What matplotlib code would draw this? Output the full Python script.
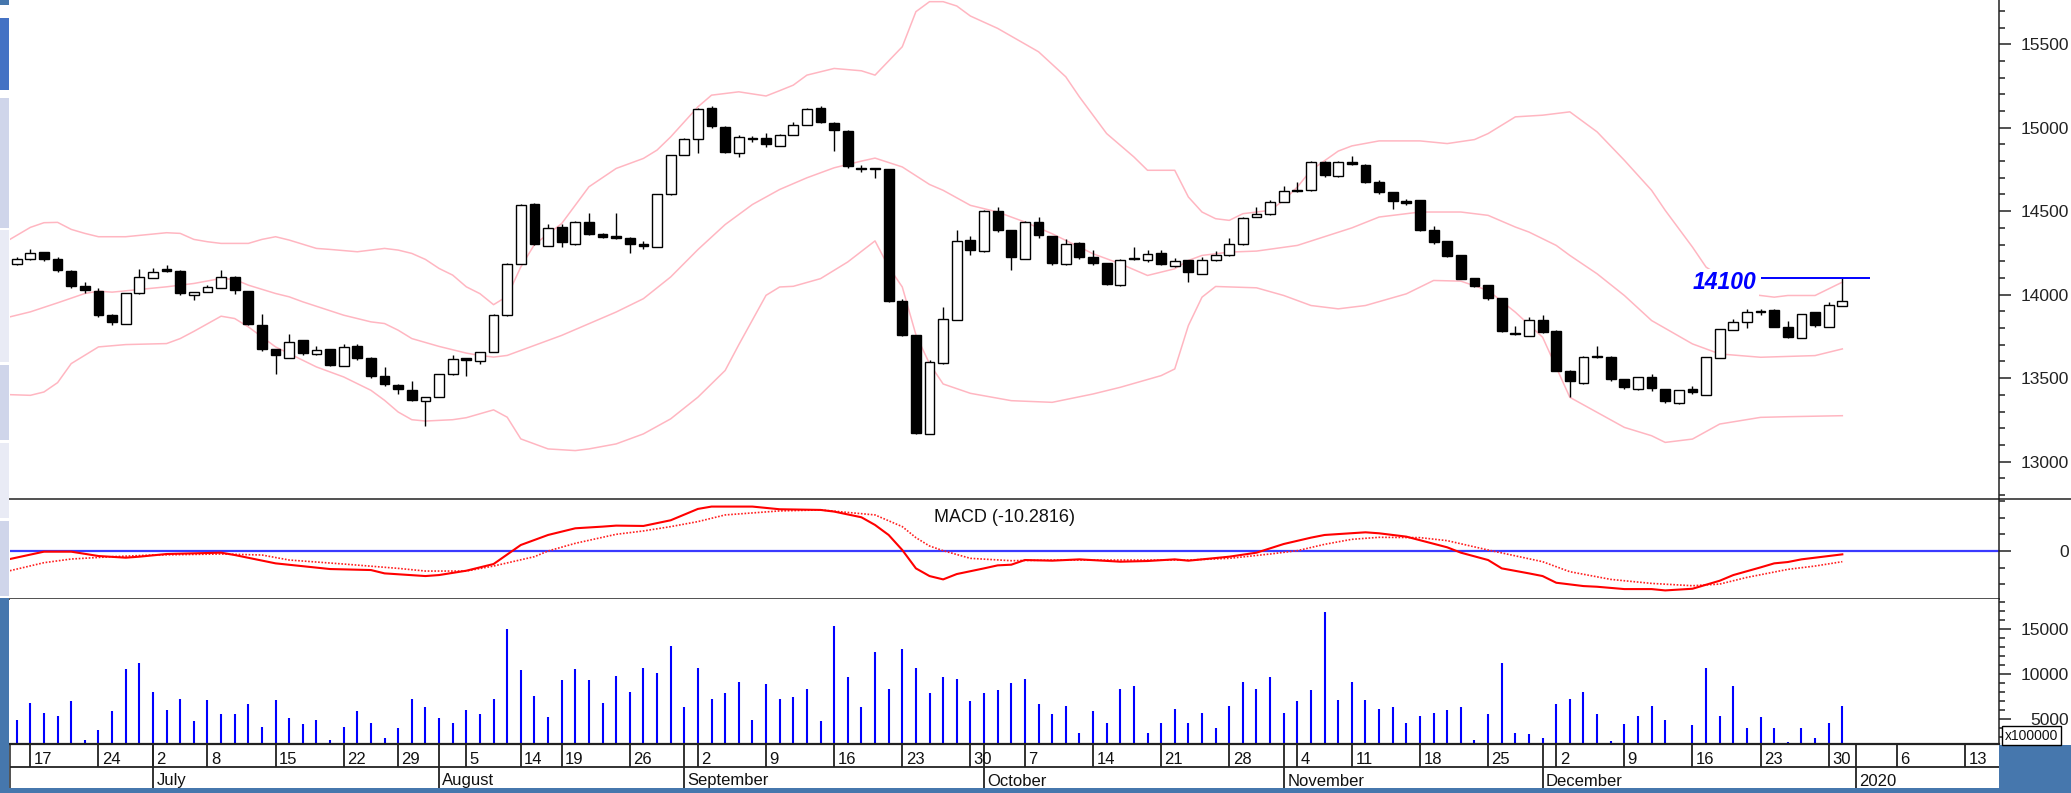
import matplotlib

matplotlib.use("Agg")
import matplotlib.pyplot as plt
from matplotlib.lines import Line2D
from matplotlib.patches import Rectangle
from matplotlib.ticker import FixedLocator, MultipleLocator, NullLocator

plt.rcParams["font.family"] = ["Liberation Sans", "DejaVu Sans"]

# ---- daily candles, one per trading day (index 0 = 14 June 2019, 134 = 31 Dec 2019)
opens = [
    14185, 14211, 14253, 14211, 14141, 14049, 14023, 13881, 13827, 14007,
    14101, 14151, 14141, 13995, 14015, 14039, 14107, 14021, 13817, 13673,
    13623, 13727, 13643, 13673, 13573, 13691, 13623, 13511, 13461, 13427,
    13363, 13387, 13523, 13621, 13602, 13656, 13876, 14184, 14546, 14294,
    14406, 14302, 14436, 14362, 14350, 14342, 14302, 14286, 14600, 14836,
    14932, 15116, 15006, 14846, 14940, 14936, 14890, 14956, 15018, 15116,
    15030, 14982, 14756, 14756, 14750, 13962, 13756, 13166, 13589, 13851,
    14325, 14259, 14501, 14385, 14215, 14435, 14349, 14181, 14309, 14225,
    14189, 14055, 14221, 14205, 14249, 14171, 14205, 14125, 14205, 14235,
    14301, 14465, 14481, 14555, 14629, 14625, 14795, 14709, 14795, 14779,
    14675, 14615, 14559, 14565, 14385, 14319, 14235, 14099, 14055, 13979,
    13771, 13755, 13849, 13785, 13545, 13469, 13635, 13629, 13495, 13435,
    13509, 13435, 13349, 13435, 13401, 13621, 13789, 13835, 13905, 13909,
    13809, 13741, 13895, 13809, 13935,
]
highs = [
    14223, 14271, 14258, 14223, 14145, 14077, 14037, 13885, 14009, 14155,
    14161, 14179, 14145, 14017, 14057, 14147, 14111, 14023, 13883, 13675,
    13763, 13731, 13695, 13677, 13707, 13707, 13627, 13567, 13465, 13483,
    13389, 13527, 13637, 13623, 13656, 13882, 14188, 14542, 14548, 14426,
    14426, 14440, 14488, 14368, 14492, 14346, 14322, 14602, 14838, 14938,
    15116, 15128, 15010, 14954, 14950, 14966, 14964, 15034, 15116, 15130,
    15034, 14986, 14774, 14758, 14752, 13974, 13758, 13609, 13925, 14389,
    14349, 14505, 14525, 14387, 14441, 14465, 14351, 14335, 14317, 14269,
    14191, 14211, 14285, 14265, 14269, 14219, 14209, 14225, 14261, 14341,
    14463, 14525, 14569, 14649, 14675, 14801, 14801, 14799, 14831, 14783,
    14685, 14617, 14575, 14567, 14409, 14321, 14237, 14101, 14057, 13981,
    13815, 13865, 13881, 13789, 13547, 13631, 13695, 13631, 13497, 13507,
    13525, 13437, 13431, 13455, 13627, 13797, 13855, 13915, 13915, 13915,
    13845, 13887, 13897, 13955, 14100,
]
lows = [
    14175, 14207, 14201, 14133, 14037, 14011, 13867, 13817, 13825, 14005,
    14099, 14137, 13995, 13971, 14013, 14037, 14003, 13821, 13665, 13527,
    13621, 13641, 13641, 13571, 13571, 13611, 13503, 13451, 13403, 13361,
    13211, 13385, 13521, 13515, 13582, 13654, 13874, 14182, 14300, 14292,
    14286, 14300, 14356, 14340, 14336, 14250, 14274, 14284, 14598, 14834,
    14846, 15000, 14846, 14826, 14914, 14886, 14888, 14954, 15016, 15026,
    14862, 14756, 14732, 14700, 13958, 13752, 13168, 13164, 13587, 13849,
    14235, 14257, 14375, 14145, 14213, 14341, 14179, 14179, 14211, 14179,
    14055, 14053, 14207, 14195, 14175, 14165, 14075, 14123, 14203, 14233,
    14299, 14463, 14479, 14553, 14617, 14623, 14705, 14707, 14777, 14669,
    14605, 14515, 14535, 14379, 14305, 14225, 14091, 14045, 13971, 13779,
    13759, 13751, 13771, 13541, 13389, 13467, 13621, 13485, 13435, 13431,
    13425, 13349, 13347, 13405, 13399, 13619, 13787, 13799, 13881, 13805,
    13741, 13739, 13809, 13807, 13933,
]
closes = [
    14213, 14247, 14211, 14147, 14049, 14027, 13877, 13837, 14007, 14103,
    14135, 14139, 14009, 14015, 14045, 14103, 14027, 13823, 13675, 13637,
    13719, 13649, 13667, 13581, 13687, 13623, 13515, 13467, 13433, 13371,
    13387, 13525, 13615, 13611, 13656, 13880, 14186, 14540, 14302, 14398,
    14314, 14434, 14366, 14346, 14340, 14306, 14294, 14600, 14836, 14932,
    15110, 15012, 14852, 14942, 14930, 14900, 14958, 15018, 15110, 15032,
    14984, 14770, 14750, 14750, 13962, 13760, 13172, 13598, 13855, 14321,
    14269, 14499, 14385, 14225, 14435, 14355, 14189, 14305, 14225, 14189,
    14061, 14209, 14211, 14245, 14185, 14201, 14135, 14209, 14235, 14301,
    14461, 14481, 14555, 14621, 14621, 14795, 14715, 14795, 14781, 14675,
    14615, 14559, 14549, 14385, 14315, 14229, 14095, 14051, 13979, 13785,
    13767, 13849, 13779, 13545, 13481, 13629, 13625, 13495, 13445, 13505,
    13439, 13365, 13429, 13415, 13625, 13795, 13835, 13895, 13895, 13809,
    13749, 13885, 13821, 13939, 13965,
]
# volume, in units of 100000
volumes = [
    4855, 6790, 5670, 5340, 6940, 2650, 3740, 5830, 10560, 11200,
    8020, 5970, 7240, 4710, 7090, 5530, 5530, 6610, 4070, 7090,
    5050, 4410, 4855, 2650, 4070, 5830, 4550, 2800, 3920, 7240,
    6310, 5050, 4550, 5970, 5530, 7240, 15030, 10410, 7570, 5190,
    9300, 10560, 9300, 6760, 9780, 8020, 10700, 10080, 13100, 6280,
    10700, 7240, 7870, 9140, 4855, 8850, 7240, 7390, 8360, 4710,
    15330, 9630, 6310, 12460, 8360, 12800, 10700, 7870, 9630, 9440,
    6940, 7870, 8210, 8990, 9440, 6610, 5530, 6450, 3430, 5830,
    4550, 8360, 8660, 3430, 4550, 6090, 4550, 5670, 3920, 6450,
    9140, 8360, 9630, 5670, 6940, 8210, 16900, 7090, 9140, 7090,
    6090, 6275, 4550, 5340, 5670, 5970, 6275, 2650, 5530, 11200,
    3430, 3290, 2800, 6610, 7240, 8020, 5530, 2500, 4410, 5340,
    6450, 4855, 2170, 4260, 10700, 5340, 8660, 3920, 5190, 3920,
    2360, 3920, 2800, 4550, 6450,
]

# ---- Bollinger bands (day index, value)
upper_x = [-0.5, 1, 2, 3, 4, 5, 6, 8, 11, 12, 13, 14, 15, 17, 18, 19, 20, 22, 23, 25,
           26, 27, 28, 29, 30, 31, 32, 33, 34, 35, 36, 37, 38, 40, 42, 44, 46, 47, 48, 50,
           51, 53, 55, 56, 57, 58, 60, 62, 63, 65, 66, 67, 68, 69, 70, 72, 75, 77, 78, 80,
           82, 83, 85, 86, 87, 88, 89, 90, 92, 93, 94, 95, 97, 98, 100, 103, 105, 107, 108, 110,
           112, 114, 116, 118, 120, 121, 123, 124, 127, 129, 130, 132, 134]
upper_y = [14331, 14403, 14431, 14433, 14391, 14367, 14347, 14347, 14371, 14367, 14331, 14317,
           14307, 14307, 14331, 14347, 14327, 14277, 14271, 14257, 14267, 14277, 14267, 14247,
           14211, 14157, 14117, 14047, 14006, 13940, 13990, 14166, 14300, 14426, 14646, 14756,
           14816, 14866, 14945, 15125, 15195, 15215, 15190, 15222, 15255, 15315, 15355, 15341,
           15315, 15485, 15695, 15755, 15755, 15729, 15669, 15595, 15455, 15305, 15185, 14965,
           14825, 14745, 14745, 14585, 14495, 14455, 14445, 14485, 14505, 14565, 14645, 14745,
           14860, 14891, 14921, 14921, 14905, 14929, 14965, 15065, 15075, 15095, 14975, 14805,
           14625, 14505, 14285, 14165, 14005, 13985, 13995, 13995, 14075]
middle_x = [-0.5, 1, 3, 5, 6, 7, 9, 11, 13, 15, 16, 17, 19, 20, 21, 24, 26, 27, 28, 29,
            31, 32, 33, 34, 35, 36, 38, 40, 42, 44, 46, 48, 50, 52, 54, 56, 58, 60, 62, 63,
            65, 67, 68, 70, 72, 74, 76, 77, 79, 81, 83, 85, 86, 87, 89, 91, 94, 98, 100, 103,
            106, 108, 110, 111, 113, 114, 116, 118, 120, 123, 125, 128, 132, 134]
middle_y = [13867, 13897, 13951, 14007, 14021, 14015, 14031, 14047, 14067, 14097, 14091, 14057,
            14007, 13987, 13957, 13877, 13837, 13827, 13787, 13737, 13690, 13670, 13650, 13636,
            13626, 13636, 13696, 13756, 13826, 13896, 13976, 14106, 14270, 14420, 14540, 14630,
            14700, 14760, 14800, 14818, 14765, 14660, 14625, 14535, 14495, 14435, 14365, 14325,
            14245, 14185, 14115, 14155, 14205, 14235, 14255, 14261, 14295, 14400, 14465, 14495,
            14495, 14475, 14405, 14375, 14295, 14235, 14125, 13995, 13845, 13705, 13645, 13625,
            13635, 13675]
lower_x = [-0.5, 1, 2, 3, 4, 6, 8, 11, 12, 13, 15, 16, 17, 18, 19, 20, 22, 24, 26, 27,
           28, 29, 30, 32, 33, 35, 36, 37, 39, 41, 42, 44, 46, 48, 50, 52, 53, 55, 56, 57,
           59, 61, 63, 64, 65, 66, 67, 68, 70, 73, 76, 79, 81, 84, 85, 86, 87, 88, 91, 93,
           95, 97, 99, 102, 104, 106, 108, 110, 112, 114, 116, 118, 120, 121, 123, 125, 128, 130,
           134]
lower_y = [13401, 13397, 13417, 13473, 13587, 13687, 13701, 13707, 13737, 13780, 13871, 13857,
           13807, 13747, 13687, 13647, 13567, 13507, 13427, 13367, 13297, 13251, 13243, 13251,
           13263, 13310, 13266, 13136, 13076, 13066, 13076, 13106, 13166, 13256, 13386, 13546,
           13700, 13996, 14046, 14050, 14096, 14196, 14322, 14166, 14046, 13760, 13586, 13465,
           13409, 13365, 13355, 13405, 13445, 13515, 13555, 13815, 13985, 14049, 14041, 13995,
           13935, 13915, 13935, 14005, 14085, 14081, 14025, 13895, 13745, 13385, 13295, 13205,
           13155, 13115, 13135, 13225, 13265, 13269, 13275]

# ---- MACD line and its signal line (day index, value)
macd_x = [-0.5, 2, 4, 6, 8, 9, 11, 15, 16, 19, 23, 26, 27, 30, 31, 33, 35, 37, 39, 40,
          41, 43, 44, 46, 48, 50, 51, 54, 56, 59, 60, 62, 63, 64, 65, 66, 67, 68, 69, 71,
          72, 73, 74, 76, 78, 81, 83, 85, 86, 89, 91, 93, 95, 96, 99, 100, 102, 105, 106, 108,
          109, 111, 112, 113, 115, 116, 118, 120, 121, 123, 125, 126, 128, 129, 130, 131, 132, 134]
macd_y = [-24, -2, -2, -15, -20, -17, -9, -5, -12, -37, -54, -57, -67, -75, -72, -59, -39, 18,
          48, 58, 68, 73, 76, 75, 92, 126, 133, 133, 125, 123, 118, 101, 78, 48, 3, -52, -75,
          -85, -69, -52, -43, -41, -27, -29, -25, -32, -30, -25, -29, -17, -5, 21, 40, 48, 56,
          53, 43, 11, -5, -27, -52, -67, -75, -95, -105, -107, -114, -114, -118, -113, -89,
          -72, -49, -37, -33, -25, -20, -10]
signal_x = [-0.5, 2, 4, 7, 10, 15, 18, 20, 24, 28, 30, 33, 35, 38, 39, 41, 44, 46, 48, 50,
            52, 56, 59, 63, 65, 66, 67, 68, 70, 73, 76, 86, 89, 92, 94, 96, 98, 100, 103, 105,
            108, 112, 114, 117, 120, 123, 125, 127, 130, 132, 134]
signal_y = [-59, -35, -24, -17, -12, -9, -12, -27, -39, -52, -60, -60, -45, -17, 0, 23, 50, 60,
            73, 88, 108, 120, 123, 108, 73, 40, 15, 1, -22, -29, -27, -27, -22, -9, 1, 20, 35,
            41, 40, 31, 3, -32, -62, -85, -97, -104, -99, -79, -55, -45, -32]
macd_last = -10.2816

# ---- date axis
day_ticks = [1, 6, 10, 14, 19, 24, 28, 33, 37, 40, 45, 50, 55, 60, 65, 70, 74, 79, 84, 89,
             94, 98, 103, 108, 113, 118, 123, 128, 133, 138, 143]
day_labels = ["17", "24", "2", "8", "15", "22", "29", "5", "14", "19", "26", "2", "9", "16",
              "23", "30", "7", "14", "21", "28", "4", "11", "18", "25", "2", "9", "16", "23",
              "30", "6", "13"]
month_ticks = [10, 31, 49, 71, 93, 112, 135]
month_labels = ["July", "August", "September", "October", "November", "December", "2020"]

resistance = 14100
resistance_span = (128, 136)

# ---- layout (pixels of the 2071 x 793 canvas)
W, H = 2071, 793
fig = plt.figure(figsize=(W / 100, H / 100), dpi=100)
fig.patch.set_facecolor("white")


def frac(x0, y0, x1, y1):
    return [x0 / W, 1 - y1 / H, (x1 - x0) / W, (y1 - y0) / H]


def fig_rect(x0, y0, x1, y1, color, **kw):
    fig.add_artist(Rectangle((x0 / W, 1 - y1 / H), (x1 - x0) / W, (y1 - y0) / H,
                             transform=fig.transFigure, facecolor=color,
                             edgecolor=kw.pop("ec", "none"), **kw))


L, R = 9.5, 1999
XLIM = (-0.53, 145.5)
SPINE = "#222222"

ax_p = fig.add_axes(frac(L, 0, R, 499))
ax_m = fig.add_axes(frac(L, 499, R, 599))
ax_v = fig.add_axes(frac(L, 599, R, 744))
ax_d = fig.add_axes(frac(L, 744, R, 788))

for ax in (ax_p, ax_m, ax_v, ax_d):
    ax.set_xlim(*XLIM)
    ax.set_facecolor("white")
    ax.xaxis.set_major_locator(NullLocator())
    for s in ax.spines.values():
        s.set_visible(False)
        s.set_color(SPINE)
        s.set_linewidth(1.1)

for ax in (ax_p, ax_m, ax_v):
    ax.spines["right"].set_visible(True)
    ax.yaxis.tick_right()
    ax.tick_params(axis="y", which="major", length=8.6, width=1.1, labelsize=12.5,
                   pad=42, colors=SPINE)
    ax.tick_params(axis="y", which="minor", length=4.3, width=1.1, colors=SPINE)

# ---- price panel
idx = list(range(len(closes)))
ax_p.vlines(idx, lows, highs, color="black", linewidth=1.0, zorder=2)
bottoms = [min(o, c) for o, c in zip(opens, closes)]
heights = [abs(c - o) for o, c in zip(opens, closes)]
fills = ["white" if c > o else "black" for o, c in zip(opens, closes)]
ax_p.bar(idx, heights, bottom=bottoms, width=0.72, color=fills, edgecolor="black",
         linewidth=1.0, zorder=3)
band_color = "#ffb6c1"
for bx, by in ((upper_x, upper_y), (middle_x, middle_y), (lower_x, lower_y)):
    ax_p.plot(bx, by, color=band_color, linewidth=1.1, zorder=1)
ax_p.hlines(resistance, *resistance_span, color="#0000ff", linewidth=1.4, zorder=4)
ax_p.text(resistance_span[0] - 0.3, resistance - 25, f"{resistance}", ha="right", va="center",
          color="#0000ff", fontsize=16.5, fontweight="bold", fontstyle="italic", zorder=5,
          bbox=dict(facecolor="white", edgecolor="none", pad=1.5))
ax_p.set_ylim(12776, 15765)
ax_p.yaxis.set_major_locator(MultipleLocator(500))
ax_p.yaxis.set_minor_locator(MultipleLocator(100))

# ---- MACD panel
ax_m.spines["top"].set_visible(True)
ax_m.spines["bottom"].set_visible(True)
ax_m.axhline(0, color="#3a3aff", linewidth=1.6, zorder=1)
ax_m.plot(signal_x, signal_y, color="#ff2020", linewidth=1.2, linestyle=(0, (1, 1)), zorder=2)
ax_m.plot(macd_x, macd_y, color="#ff0000", linewidth=1.5, zorder=3)
ax_m.set_ylim(-143.7, 155.7)
ax_m.yaxis.set_major_locator(FixedLocator([0]))
ax_m.yaxis.set_minor_locator(MultipleLocator(50))
ax_m.text(0.5, 0.82, f"MACD ({macd_last})", transform=ax_m.transAxes, ha="center",
          va="center", fontsize=13, color="#111111")

# ---- volume panel
vol_floor = 2170
ax_v.vlines(idx, vol_floor, volumes, color="#0000ff", linewidth=1.5)
ax_v.set_ylim(vol_floor, 18390)
ax_v.yaxis.set_major_locator(FixedLocator([5000, 10000, 15000]))
ax_v.yaxis.set_minor_locator(MultipleLocator(1000))

for ax in (ax_p, ax_m, ax_v):
    for lbl in ax.get_yticklabels():
        lbl.set_horizontalalignment("right")

# ---- date rows
ax_d.set_ylim(44, 0)
ax_d.set_yticks([])
ax_d.spines["top"].set_visible(True)
ax_d.spines["top"].set_linewidth(1.6)
ax_d.spines["left"].set_visible(True)
ax_d.axhline(23, color=SPINE, linewidth=1.3)
ax_d.vlines(day_ticks, 0, 23, color=SPINE, linewidth=1.3)
ax_d.vlines(month_ticks, 0, 44, color=SPINE, linewidth=1.3)
for t, lab in zip(day_ticks, day_labels):
    ax_d.text(t + 0.25, 19.5, lab, ha="left", va="baseline", fontsize=12, color="#111111")
for t, lab in zip(month_ticks, month_labels):
    ax_d.text(t + 0.25, 41.5, lab, ha="left", va="baseline", fontsize=12, color="#111111")

# ---- frame decorations
steel = "#4677ad"
fig_rect(0, 788, W, H, steel)
fig_rect(R, 745, W, H, steel)
fig_rect(0, 598, 9, H, steel)
fig_rect(0, 0, 9, 5, steel)
fig_rect(0, 18, 9, 90, "#4472c4")
for y0, y1, c in ((98, 228, "#cfd5ea"), (230, 362, "#e9ebf5"), (365, 440, "#cfd5ea"),
                  (443, 518, "#e9ebf5"), (521, 596, "#cfd5ea")):
    fig_rect(0, y0, 9, y1, c)
fig.add_artist(Line2D([R / W, 1], [1 - 499 / H] * 2, transform=fig.transFigure,
                      color=SPINE, linewidth=1.1))
fig_rect(2002, 726, 2061, 745, "white", ec="black", linewidth=1.0, zorder=3)
fig.text(2031.5 / W, 1 - 735.5 / H, "x100000", ha="center", va="center", fontsize=10,
         color="#111111", zorder=4)

fig.savefig("out.png", dpi=100)
